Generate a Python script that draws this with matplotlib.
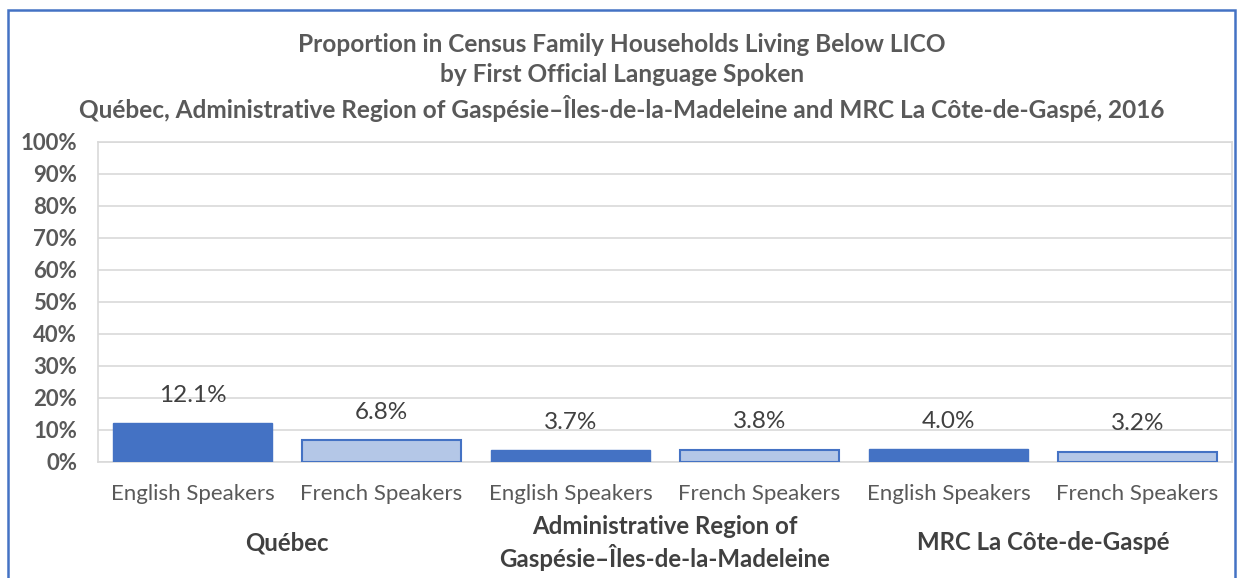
import matplotlib.pyplot as plt
from matplotlib.patches import Rectangle

# data
groups = ['Québec', 'Administrative Region of\nGaspésie–Îles-de-la-Madeleine', 'MRC La Côte-de-Gaspé']
languages = ['English Speakers', 'French Speakers']
values = [12.1, 6.8, 3.7, 3.8, 4.0, 3.2]
yticks = [0, 10, 20, 30, 40, 50, 60, 70, 80, 90, 100]

plt.rcParams['font.family'] = ['Lato', 'DejaVu Sans']

fig = plt.figure(figsize=(12.44, 5.78), dpi=100)
ax = fig.add_axes([98 / 1244, 1 - 462 / 578, 1134 / 1244, 320 / 578])

# outer blue frame, bottom runs off the picture
fig.patches.append(Rectangle((8 / 1244, -0.05), 1227 / 1244, 1.05 - 10 / 578,
                             transform=fig.transFigure, fill=False,
                             edgecolor='#4472C4', linewidth=1.8))

x = list(range(len(values)))
for i, v in enumerate(values):
    if i % 2 == 0:
        ax.bar(i, v, width=0.84, color='#4472C4', edgecolor='#4472C4', linewidth=1, zorder=3)
    else:
        ax.bar(i, v, width=0.84, color='#B4C7E7', edgecolor='#4472C4', linewidth=1.5, zorder=3)
    ax.annotate(f'{v:.1f}%', (i, v), xytext=(0, 28), textcoords='offset pixels',
                ha='center', va='center', fontsize=17.5, color='#404040')

ax.set_xlim(-0.5, len(values) - 0.5)
ax.set_ylim(0, 100)
ax.set_yticks(yticks)
ax.set_yticklabels([f'{t}%' for t in yticks], fontsize=16, fontweight='bold', color='#595959')
ax.set_xticks(x)
ax.set_xticklabels(languages * 3, fontsize=16, color='#595959')
ax.tick_params(length=0)
ax.tick_params(axis='x', pad=16)
ax.tick_params(axis='y', pad=15)
ax.grid(axis='y', color='#D9D9D9', linewidth=1.2, zorder=0)
for s in ax.spines.values():
    s.set_color('#D9D9D9')
    s.set_linewidth(1.2)

for g, name in enumerate(groups):
    cx = 2 * g + 0.5
    ax.annotate(name, (cx, 0), xycoords=('data', 'axes fraction'), xytext=(0, -81),
                textcoords='offset pixels', ha='center', va='center',
                fontsize=17.3, fontweight='bold', color='#404040', linespacing=1.25)

fig.text(0.5, 1 - 44 / 578, 'Proportion in Census Family Households Living Below LICO',
         ha='center', va='center', fontsize=17.6, fontweight='bold', color='#595959')
fig.text(0.5, 1 - 75 / 578, 'by First Official Language Spoken',
         ha='center', va='center', fontsize=17.6, fontweight='bold', color='#595959')
fig.text(0.5, 1 - 108 / 578,
         'Québec, Administrative Region of Gaspésie–Îles-de-la-Madeleine and MRC La Côte-de-Gaspé, 2016',
         ha='center', va='center', fontsize=17.6, fontweight='bold', color='#595959')

fig.savefig('out.png', dpi=100)
